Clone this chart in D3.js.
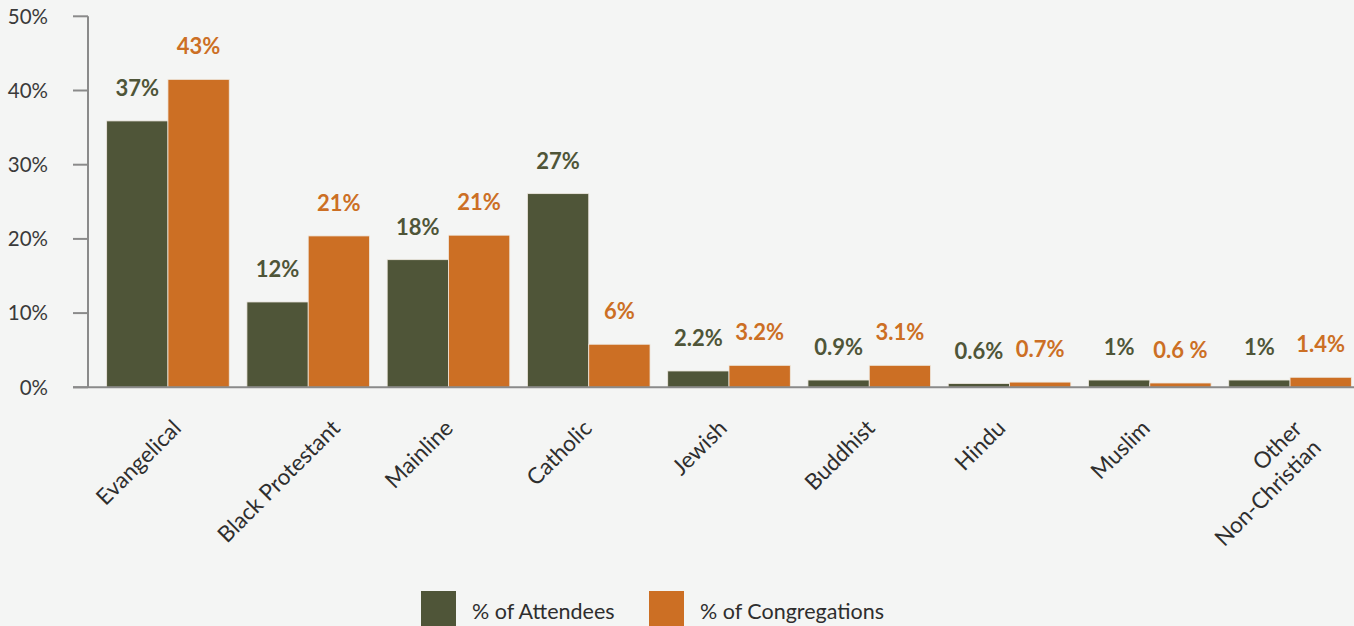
<!DOCTYPE html>
<html>
<head>
<meta charset="utf-8">
<script src="https://cdn.jsdelivr.net/npm/d3@7"></script>
<style>
  html, body { margin: 0; padding: 0; background: #f4f5f4; }
  svg { display: block; }
  text { font-family: Lato, "Open Sans", sans-serif; }
</style>
</head>
<body>
<svg id="chart" width="1354" height="626"></svg>
<script>
const categories = [["Evangelical"], ["Black Protestant"], ["Mainline"], ["Catholic"], ["Jewish"], ["Buddhist"], ["Hindu"], ["Muslim"], ["Other", "Non-Christian"]];
const attendees = [35.9, 11.5, 17.2, 26.1, 2.2, 0.98, 0.5, 0.98, 0.98];
const congregations = [41.5, 20.4, 20.5, 5.8, 2.96, 2.96, 0.7, 0.58, 1.35];
const attendeeLabels = ["37%", "12%", "18%", "27%", "2.2%", "0.9%", "0.6%", "1%", "1%"];
const congregationLabels = ["43%", "21%", "21%", "6%", "3.2%", "3.1%", "0.7%", "0.6 %", "1.4%"];
const yTicks = [0, 10, 20, 30, 40, 50];
const seriesNames = ["% of Attendees", "% of Congregations"];
const colors = ["#4f5538", "#cc6f24"];

const svg = d3.select("#chart");
const x = d3.scaleBand().domain(d3.range(categories.length)).range([88, 1370]).paddingInner(0.126).paddingOuter(0.133);
const xs = d3.scaleBand().domain([0, 1]).range([0, x.bandwidth()]);
const y = d3.scaleLinear().domain([0, 50]).range([387.3, 16.3]);

// y axis
const gy = svg.append("g");
gy.append("line").attr("x1", 88).attr("x2", 88).attr("y1", y(50)).attr("y2", y(0))
  .attr("stroke", "#8a8a8a").attr("stroke-width", 2);
gy.selectAll(".tick").data(yTicks).enter().append("line")
  .attr("x1", 73).attr("x2", 88).attr("y1", d => y(d)).attr("y2", d => y(d))
  .attr("stroke", "#8a8a8a").attr("stroke-width", 2);
gy.selectAll(".tl").data(yTicks).enter().append("text")
  .attr("x", 48).attr("y", d => y(d)).attr("dy", "0.36em")
  .attr("text-anchor", "end").attr("font-size", 20.5).attr("fill", "#3a3a3a")
  .text(d => d + "%");

const series = [attendees, congregations];
const labels = [attendeeLabels, congregationLabels];
series.forEach((vals, s) => {
  svg.append("g").selectAll("rect").data(vals).enter().append("rect")
    .attr("x", (d, i) => x(i) + xs(s))
    .attr("width", xs.bandwidth())
    .attr("y", d => y(d))
    .attr("height", d => y(0) - y(d))
    .attr("fill", colors[s])
    .attr("stroke", "#efe9e0").attr("stroke-width", 0.8);
  svg.append("g").selectAll("text").data(vals).enter().append("text")
    .attr("x", (d, i) => x(i) + xs(s) + xs.bandwidth() / 2)
    .attr("y", d => y(d) - 25)
    .attr("text-anchor", "middle").attr("font-size", 22).attr("font-weight", 700)
    .attr("fill", colors[s])
    .text((d, i) => labels[s][i]);
});

// x axis line
svg.append("line").attr("x1", 73).attr("x2", 1354).attr("y1", y(0)).attr("y2", y(0))
  .attr("stroke", "#8a8a8a").attr("stroke-width", 2);

// category labels: rotated, box centred a little left of the group centre, top aligned under the axis
const svgRect = svg.node().getBoundingClientRect();
categories.forEach((lines, i) => {
  const g = svg.append("g");
  const t = g.append("text")
    .attr("transform", "rotate(-45)")
    .attr("text-anchor", "end").attr("font-size", 22.5).attr("fill", "#2e2e2e");
  lines.forEach((ln, k) => {
    t.append("tspan").attr("x", 0).attr("y", k * 27).text(ln);
  });
  const bb = t.node().getBoundingClientRect();
  const cx = x(i) + x.bandwidth() / 2 - 30 - 2 * (lines.length - 1);
  const dx = cx - ((bb.left + bb.right) / 2 - svgRect.left);
  const dy = 414 - (bb.top - svgRect.top);
  g.attr("transform", `translate(${dx},${dy})`);
});

// legend
const lg = svg.append("g");
const legendX = [421, 649];
seriesNames.forEach((n, s) => {
  lg.append("rect").attr("x", legendX[s]).attr("y", 591).attr("width", 35).attr("height", 36).attr("fill", colors[s]);
  lg.append("text").attr("x", legendX[s] + 51).attr("y", 619).attr("font-size", 21.5).attr("fill", "#2e2e2e").text(n);
});
</script>
</body>
</html>
